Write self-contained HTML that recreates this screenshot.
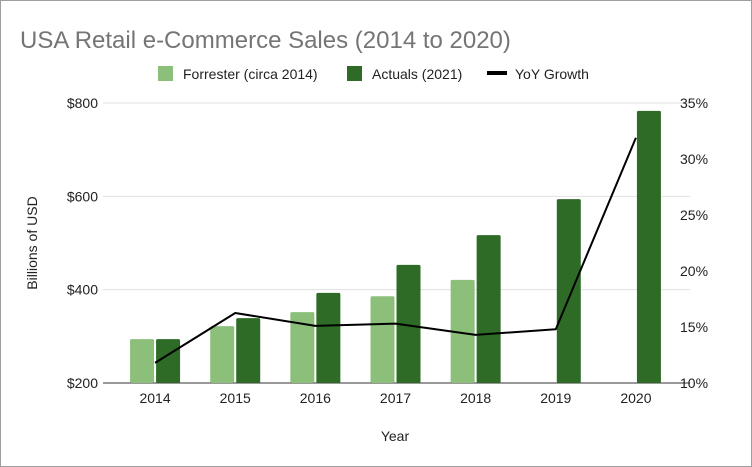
<!DOCTYPE html>
<html><head><meta charset="utf-8"><style>
body{margin:0;background:#fff}
svg{display:block;font-family:"Liberation Sans",sans-serif}
</style></head><body>
<svg id="c" width="752" height="467">
<rect x="0.5" y="0.5" width="751" height="466" fill="#fff" stroke="#9e9e9e"/>
<text x="20" y="48" font-size="24" fill="#757575">USA Retail e-Commerce Sales (2014 to 2020)</text>
<g>
<g><rect x="158" y="66" width="15" height="15" fill="#8cc07a"/><text x="183" y="79" font-size="14" fill="#222">Forrester (circa 2014)</text></g>
<g><rect x="347" y="66" width="15" height="15" fill="#2e6b26"/><text x="372" y="79" font-size="14" fill="#222">Actuals (2021)</text></g>
<g><rect x="487" y="71" width="20" height="4" fill="#000"/><text x="515" y="79" font-size="14" fill="#222">YoY Growth</text></g>
</g>
<text transform="translate(37,243) rotate(-90)" text-anchor="middle" font-size="14" fill="#222">Billions of USD</text>
<text x="395" y="441" text-anchor="middle" font-size="14" fill="#222">Year</text>
<g id="grid"></g><g id="bars"></g><g id="line"></g><g id="labels"></g>
</svg>
<script>
const years=["2014","2015","2016","2017","2018","2019","2020"];
const forrester=[294,322,352,386,421,null,null];
const actuals=[294,339,393,453,517,594,783];
const yoy=[11.8,16.25,15.1,15.3,14.3,14.8,31.9];
const leftTicks=[200,400,600,800];
const rightTicks=[10,15,20,25,30,35];
const NS="http://www.w3.org/2000/svg";
const L=115,R=676,T=103,B=383;
const yL=v=>B-(v-200)/600*(B-T);
const yR=v=>B-(v-10)/25*(B-T);
const step=(R-L)/years.length;
const xC=i=>L+step*(i+0.5);
function mk(tag,attrs,parent){const e=document.createElementNS(NS,tag);for(const k in attrs)e.setAttribute(k,attrs[k]);document.getElementById(parent).appendChild(e);return e;}
leftTicks.forEach(v=>{
 const g=mk('line',{x1:103,x2:690,y1:yL(v),y2:yL(v),stroke:v===200?'#333':'#e0e0e0','stroke-width':1},'grid');
 
 
 const t=mk('text',{x:98,y:yL(v)+5,'text-anchor':'end','font-size':14,fill:'#222'},'labels');t.textContent='$'+v;
 
 
});
rightTicks.forEach(v=>{
 const t=mk('text',{x:680,y:yR(v)+5,'font-size':14,fill:'#222'},'labels');t.textContent=v+'%';
 
 
});
const bw=24;
years.forEach((y,i)=>{
 const t=mk('text',{x:xC(i),y:403,'text-anchor':'middle','font-size':14,fill:'#222'},'labels');t.textContent=y;
 
 
 if(forrester[i]!=null){
  const r=mk('rect',{x:xC(i)-bw-1,y:yL(forrester[i]),width:bw,height:B-yL(forrester[i]),fill:'#8cc07a',rx:1.5},'bars');
  
  
 }
 const r2=mk('rect',{x:xC(i)+1,y:yL(actuals[i]),width:bw,height:B-yL(actuals[i]),fill:'#2e6b26',rx:1.5},'bars');
 
 
});
const pts=yoy.map((v,i)=>xC(i)+','+yR(v)).join(' ');
const pl=mk('polyline',{points:pts,fill:'none',stroke:'#000','stroke-width':2,'stroke-linejoin':'round'},'line');


</script>
</body></html>
